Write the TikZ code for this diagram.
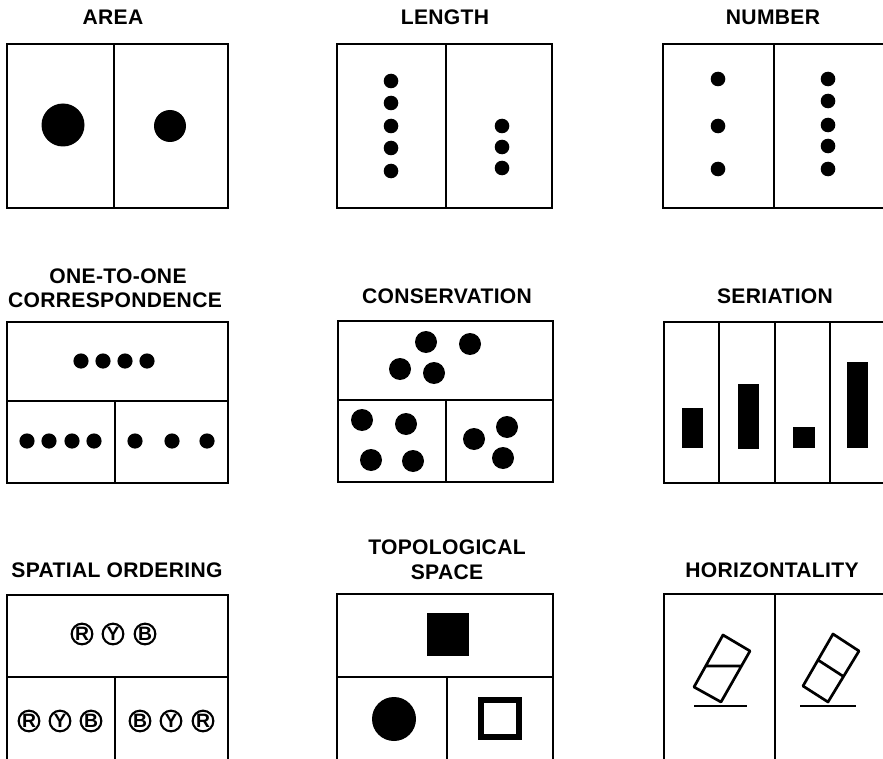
\documentclass[tikz,border=0pt]{standalone}
\usepackage{fontspec}
\setmainfont{Liberation Sans}
\newfontfamily\titlefont[LetterSpace=1.5]{Liberation Sans}
\usetikzlibrary{positioning}

\begin{document}
\begin{tikzpicture}[
    x=0.03cm, y=-0.03cm,
    panel/.style={draw,line width=1.6pt},
    title/.style={anchor=base,inner sep=0pt,font=\titlefont\bfseries\fontsize{18}{21}\selectfont},
    bottle/.style={draw,line width=2.3pt,line join=round},
    ground/.style={draw,line width=2.3pt},
    ringletter/.style={circle,draw,line width=1.8pt,minimum size=0.62cm,inner sep=0pt,font=\bfseries\fontsize{16.5}{16.5}\selectfont},
]
\useasboundingbox (0,0) rectangle (883,759);
\clip (0,0) rectangle (883,759);

% ===== Row 1: Area, Length, Number =====
\node[title] (area) at (113,25) {AREA};
\draw[panel] (7,44) rectangle (228,208) (114,44) -- (114,208);
\fill (63,125) circle[radius=21.5];
\fill (170,126) circle[radius=16];

\node[title] (length) at (445,25) {LENGTH};
\draw[panel] (337,44) rectangle (552,208) (446,44) -- (446,208);
\foreach \y in {81,103,126,148,171} \fill (391,\y) circle[radius=7.3];
\foreach \y in {126,147,168} \fill (502,\y) circle[radius=7.3];

\node[title] (number) at (773,25) {NUMBER};
\draw[panel] (663,44) rectangle (886,208) (774,44) -- (774,208);
\foreach \y in {79,126,169} \fill (718,\y) circle[radius=7.3];
\foreach \y in {79,101,125,146,169} \fill (828,\y) circle[radius=7.3];

% ===== Row 2: One-to-one, Conservation, Seriation =====
\node[title] (onetoone) at (118,283) {ONE-TO-ONE};
\node[title] (correspondence) at (115,307) {CORRESPONDENCE};
\draw[panel] (7,322) rectangle (228,483) (7,401) -- (228,401) (115,401) -- (115,483);
\foreach \x in {81,103,125,147} \fill (\x,361) circle[radius=7.6];
\foreach \x in {27,49,72,94} \fill (\x,441) circle[radius=7.6];
\foreach \x in {135,172,207} \fill (\x,441) circle[radius=7.6];

\node[title] (conservation) at (447,303) {CONSERVATION};
\draw[panel] (338,321) rectangle (553,482) (338,400) -- (553,400) (446,400) -- (446,482);
\foreach \p in {(426,342),(470,344),(400,369),(434,373),
                (362,420),(406,424),(371,460),(413,461),
                (507,427),(474,439),(503,458)}
    \fill \p circle[radius=11];

\node[title] (seriation) at (775,303) {SERIATION};
\draw[panel] (664,322) rectangle (886,483);
\foreach \x in {719,775,830} \draw[panel] (\x,322) -- (\x,483);
\fill (682,408) rectangle (703,448);
\fill (738,384) rectangle (759,449);
\fill (793,427) rectangle (815,448);
\fill (847,362) rectangle (868,448);

% ===== Row 3: Spatial ordering, Topological space, Horizontality =====
\node[title] (spatial) at (117,577) {SPATIAL ORDERING};
\draw[panel] (7,595) rectangle (228,770) (7,677) -- (228,677) (115,677) -- (115,770);
\node[ringletter] (r1) at (82,634) {R};
\node[ringletter] (y1) at (113,634) {Y};
\node[ringletter] (b1) at (145,634) {B};
\node[ringletter] (r2) at (29,721) {R};
\node[ringletter] (y2) at (60,721) {Y};
\node[ringletter] (b2) at (91,721) {B};
\node[ringletter] (b3) at (140,721) {B};
\node[ringletter] (y3) at (171,721) {Y};
\node[ringletter] (r3) at (203,721) {R};

\node[title] (topological) at (447,554) {TOPOLOGICAL};
\node[title] (space) at (447,579) {SPACE};
\draw[panel] (337,594) rectangle (553,770) (337,677) -- (553,677) (447,677) -- (447,770);
\fill (427,613) rectangle (469,656);
\fill (394,719) circle[radius=22];
\draw[line width=5pt] (481,700) rectangle (519,737);

\node[title] (horizontality) at (772,577) {HORIZONTALITY};
\draw[panel] (664,594) rectangle (886,770) (775,594) -- (775,770);
\draw[bottle] (723,635) -- (750,651) -- (721,702) -- (694,687) -- cycle
              (706,666) -- (741,666);
\draw[ground] (694,706) -- (747,706);
\draw[bottle] (833,634) -- (859,651) -- (828,702) -- (803,686) -- cycle
              (818,660) -- (843.5,676.5);
\draw[ground] (800,706) -- (856,706);

\end{tikzpicture}
\end{document}
